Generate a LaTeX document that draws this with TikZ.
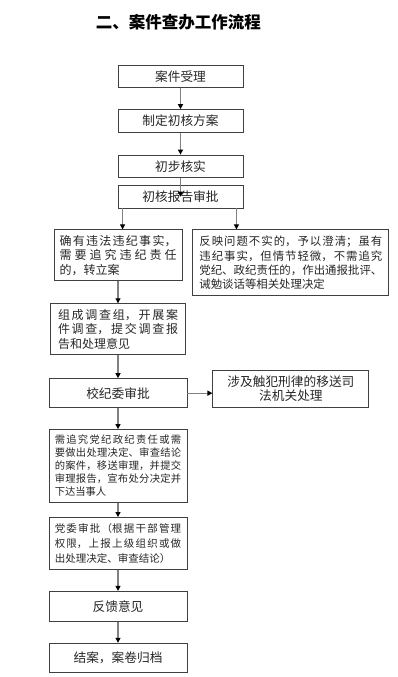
\documentclass[tikz,border=0pt]{standalone}
\usepackage{fontspec}
\setmainfont{Noto Sans CJK SC}
\usepackage{tikz}
\usetikzlibrary{positioning, arrows.meta}
\XeTeXlinebreaklocale "zh"
\XeTeXlinebreakskip=0pt plus 1pt
\tolerance=10000
\hbadness=10000

\begin{document}
\begin{tikzpicture}[x=1pt, y=1pt,
    box/.style={draw=black!75, line width=0.9pt, rectangle, text=black!85, font=\fontsize{12.7}{14.5}\selectfont, align=center, inner sep=0pt},
    textbox/.style={box, align=justify, font=\fontsize{12}{14.5}\selectfont},
    flow/.style={draw=black!50, line width=1.1pt, -{Triangle[length=5pt, width=5pt, color=black]}}]
    \useasboundingbox (0,0) rectangle (398,-677);
    \node[font=\fontsize{16.5}{18}\selectfont\bfseries] (title) at (178.3,-22) {二、案件查办工作流程};
    \node[box, minimum width=125pt, minimum height=22.5pt] (accept) at (180.5,-76.5) {案件受理};
    \node[box, below=21pt of accept, minimum width=125pt, minimum height=22.5pt] (plan) {制定初核方案};
    \node[box, below=22pt of plan, minimum width=125pt, minimum height=22.5pt] (verify) {初步核实};
    \node[box, below=7pt of verify, minimum width=125pt, minimum height=22.5pt] (report) {初核报告审批};
    \node[textbox, anchor=north, text width=117pt, inner xsep=5.5pt, minimum height=51pt] (filed) at ([xshift=-62.5pt, yshift=-21pt]report.south) {确有违法违纪事实，\linebreak 需要追究违纪责任\linebreak 的，转立案};
    \node[textbox, right=10pt of filed.north east, anchor=north west, font=\fontsize{11.4}{14.4}\selectfont, text width=183pt, inner xsep=6.5pt, minimum height=66pt] (minor) {反映问题不实的，予以澄清；虽有\linebreak 违纪事实，但情节轻微，不需追究\linebreak 党纪、政纪责任的，作出通报批评、\linebreak 诫勉谈话等相关处理决定};
    \node[textbox, below=22pt of filed, text width=120pt, inner xsep=7.5pt, minimum height=51pt] (invest) {组成调查组，开展案\linebreak 件调查，提交调查报\linebreak 告和处理意见};
    \node[box, below=23pt of invest, minimum width=138pt, minimum height=29pt] (board) {校纪委审批};
    \node[box, right=25pt of board.south east, anchor=south west, minimum width=156pt, minimum height=37pt, font=\fontsize{12.7}{14}\selectfont] (judic) {涉及触犯刑律的移送司\\法机关处理};
    \node[textbox, below=21pt of board, font=\fontsize{10.3}{13}\selectfont, text width=126.5pt, inner xsep=5.75pt, minimum height=73pt] (trial) {需追究党纪政纪责任或需\linebreak 要做出处理决定、审查结论\linebreak 的案件，移送审理，并提交\linebreak 审理报告，宣布处分决定并\linebreak 下达当事人};
    \node[textbox, below=14pt of trial, font=\fontsize{10.5}{14.6}\selectfont, text width=126.5pt, inner xsep=5.75pt, minimum height=52pt] (party) {党委审批（根据干部管理\linebreak 权限，上报上级组织或做\linebreak 出处理决定、审查结论）};
    \node[box, below=21pt of party, minimum width=138pt, minimum height=30pt] (feedback) {反馈意见};
    \node[box, below=21pt of feedback, minimum width=138pt, minimum height=29pt] (close) {结案，案卷归档};
    \draw[flow] (accept) -- (plan);
    \draw[flow] (plan) -- (verify);
    \draw[flow] (verify.south) -- (report.center);
    \draw[flow] ([xshift=5pt]report.south west) -- ([xshift=5pt]report.south west |- filed.north);
    \draw[flow] ([xshift=-7pt]report.south east) -- ([xshift=-7pt]report.south east |- minor.north);
    \draw[flow] (filed) -- (invest);
    \draw[flow] (invest) -- (board);
    \draw[flow] (board.east) -- (board.east -| judic.west);
    \draw[flow] (board) -- (trial);
    \draw[flow] (trial) -- (party);
    \draw[flow] (party) -- (feedback);
    \draw[flow] (feedback) -- (close);
\end{tikzpicture}
\end{document}
